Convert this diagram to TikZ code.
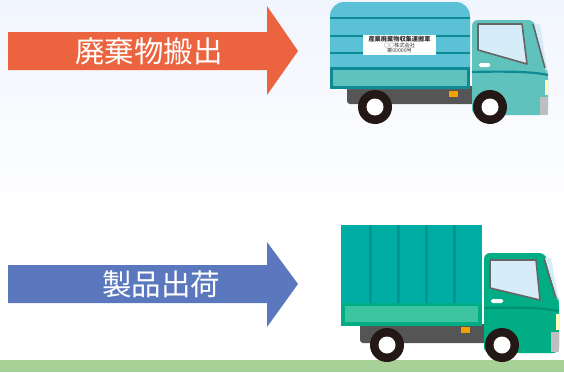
\documentclass[tikz,border=0pt]{standalone}
\usepackage{fontspec}
\newfontfamily\jpfont{Noto Sans CJK JP}
\usetikzlibrary{positioning, calc, backgrounds}

\definecolor{outorange}{HTML}{EB643F}
\definecolor{shipblue}{HTML}{5B78BE}
\definecolor{vanblue}{HTML}{5BC1D6}
\definecolor{vanline}{HTML}{0E8A96}
\definecolor{vanpanel}{HTML}{5FC2BD}
\definecolor{boxteal}{HTML}{00ADA5}
\definecolor{boxline}{HTML}{00968B}
\definecolor{boxpanel}{HTML}{3DC5A1}
\definecolor{cabgreen}{HTML}{00AD84}
\definecolor{cabline}{HTML}{00916E}
\definecolor{chassis}{HTML}{555555}
\definecolor{tyre}{HTML}{231815}
\definecolor{glass}{HTML}{D6ECF8}
\definecolor{frame}{HTML}{666666}
\definecolor{lamp}{HTML}{F3A000}
\definecolor{grass}{HTML}{A8D198}
\definecolor{skytop}{HTML}{F1F5FD}

\begin{document}
\begin{tikzpicture}[x=1pt, y=-1pt,
        arrow_text/.style={text=white, font=\jpfont\fontsize{29.5}{30}\selectfont, inner sep=0pt},
        sign_text/.style={font=\jpfont\fontsize{5.2}{5.5}\selectfont, inner sep=0pt, text=black!80},
        wheel/.pic={
            \fill[tyre] (0,0) circle (17);
            \fill[white] (0,0) circle (8.5);
        },
        window_frame/.style={fill=glass, draw=frame, line width=1.6pt, line join=round}]

    \useasboundingbox (0,0) rectangle (564,372);

    % sky and ground
    \begin{scope}[on background layer]
        \fill[white] (0,0) rectangle (564,372);
        \shade[top color=skytop, bottom color=white] (0,0) rectangle (564,220);
        \fill[grass] (0,360) rectangle (564,372);
    \end{scope}

    % arrows
    \fill[outorange] (8,32) -- (267,32) -- (267,6) -- (298,51) -- (267,95) -- (267,70) -- (8,70) -- cycle;
    \node[arrow_text] (waste) at (149,51) {廃棄物搬出};

    \fill[shipblue] (8,265) -- (267,265) -- (267,242) -- (298,284) -- (267,327) -- (267,303) -- (8,303) -- cycle;
    \node[arrow_text] (goods) at (161,284) {製品出荷};

    % waste truck
    \fill[chassis, rounded corners=3] (347,86) rectangle (538,104);
    \fill[vanblue, rounded corners=14] (330,89) -- (330,2) -- (470,2) -- (470,89) -- cycle;
    \fill[vanblue] (330,60) rectangle (470,89);
    \foreach \y in {18,36,53}
        \fill[vanline] (330,\y-1) rectangle (470,\y+1);
    \fill[vanline] (330,67) rectangle (470,89);
    \fill[vanpanel] (333,70) rectangle (467,86);
    \fill[white] (363,35) rectangle (436,55);
    \node[sign_text, font=\jpfont\bfseries\fontsize{6.2}{6.5}\selectfont] (plate) at (399.5,39.5) {産業廃棄物収集運搬車};
    \node[sign_text] (firm) at (399.5,45.5) {○○株式会社};
    \node[sign_text] (permit) at (399.5,51) {第00000号};

    \fill[vanpanel, rounded corners=6] (472,115) -- (472,20) -- (534,20) -- (548,72) -- (548,115) -- cycle;
    \fill[glass] (534,24) -- (540,24) -- (547,68) -- (546,72) -- cycle;
    \draw[window_frame] (478,24) -- (522,24) -- (527,64) -- (478,50) -- cycle;
    \draw[window_frame] (533,24) -- (545,68);
    \fill[white, rounded corners=1.5] (479,63) rectangle (490,67);
    \draw[vanline, line width=2.2pt] (472,72) .. controls (510,71) and (535,72) .. (548,75);
    \fill[yellow!25] (545,80) rectangle (548,95);
    \fill[black!25] (540,97) rectangle (548,115);
    \fill[lamp] (449,91) rectangle (458,97);
    \pic at (375,107) {wheel};
    \pic at (490,107) {wheel};

    % delivery truck
    \fill[chassis, rounded corners=3] (360,324) rectangle (548,343);
    \fill[boxteal] (341,225) rectangle (482,326);
    \foreach \x in {370,398,426,454}
        \fill[boxline] (\x-1.5,225) rectangle (\x+1.5,303);
    \fill[cabgreen] (341,303) rectangle (482,326);
    \fill[boxpanel] (345,306) rectangle (478,322);

    \fill[cabgreen, rounded corners=6] (484,353) -- (484,253) -- (545,253) -- (559,300) -- (559,353) -- cycle;
    \fill[glass] (545,258) -- (551,258) -- (558,296) -- (557,300) -- cycle;
    \draw[window_frame] (490,260) -- (536,260) -- (540,300) -- (490,288) -- cycle;
    \draw[window_frame] (544,259) -- (556,298);
    \fill[white, rounded corners=1.5] (491,299) rectangle (503,303);
    \draw[cabline, line width=2.2pt] (484,308) .. controls (520,307) and (545,308) .. (559,311);
    \fill[yellow!25] (556,314) rectangle (559,330);
    \fill[black!25] (551,332) rectangle (559,352);
    \fill[lamp] (461,327) rectangle (470,333);
    \pic at (387,345) {wheel};
    \pic at (502,345) {wheel};
\end{tikzpicture}
\end{document}
